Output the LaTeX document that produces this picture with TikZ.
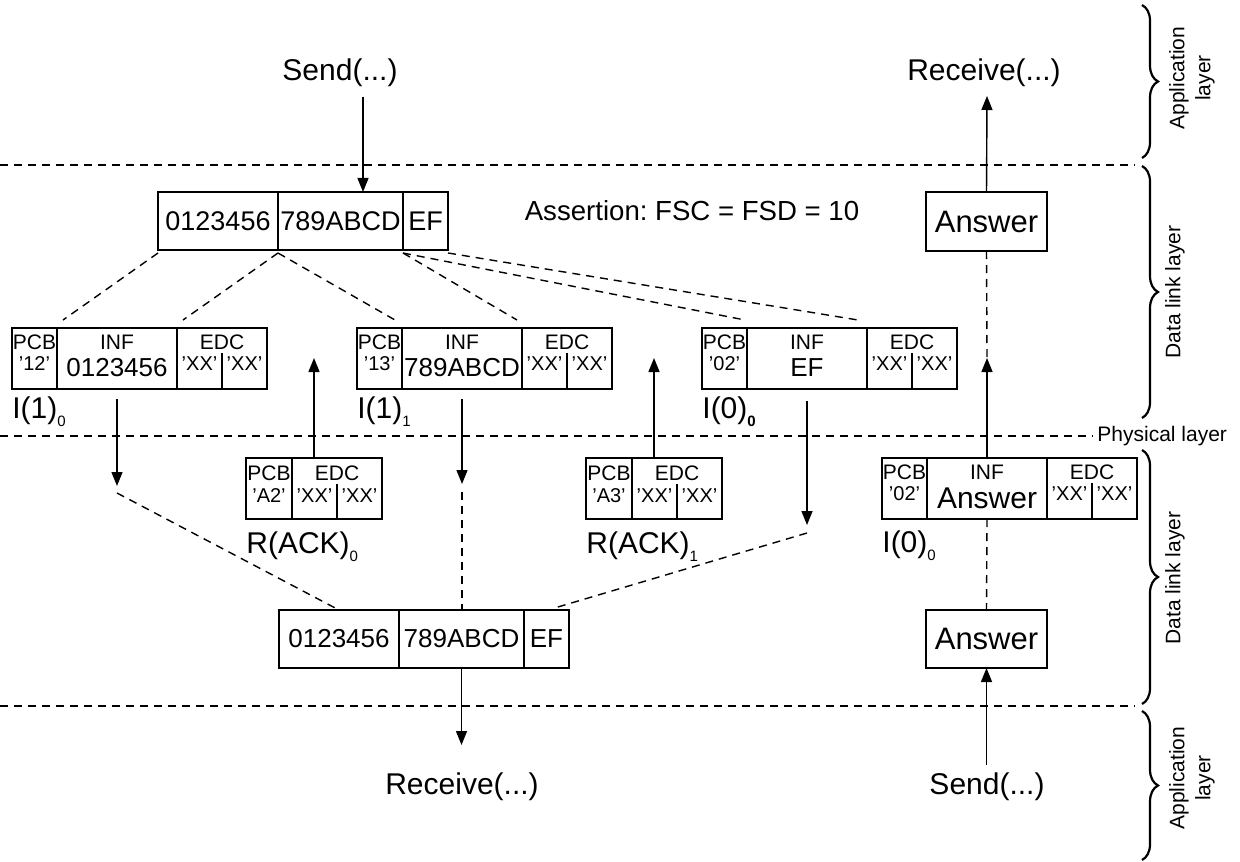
\documentclass[tikz,border=0pt]{standalone}
\usepackage{fontspec}
\setmainfont{Liberation Sans}
\usetikzlibrary{arrows.meta,decorations.pathreplacing,calc}
\newcommand{\fsz}[1]{\fontsize{#1}{#1}\selectfont}
\newcommand{\sbs}[1]{\raisebox{-0.28em}{\fontsize{7.5}{8}\selectfont #1}}
\tikzset{
  fld/.style={draw,line width=0.8pt,inner sep=0pt,outer sep=0pt,anchor=north west,minimum height=30.5pt},
  bx/.style={line width=0.8pt},
  lbl/.style={font=\fsz{10.5},inner sep=0pt},
  val/.style={font=\fsz{10},inner sep=0pt},
  big/.style={font=\fsz{15},inner sep=0pt},
  dsh/.style={dash pattern=on 4pt off 3pt,line width=0.7pt},
  arr/.style={line width=0.7pt,-{Triangle[length=7pt,width=5.5pt]}},
  brc/.style={decorate,decoration={brace,amplitude=8pt},line width=1.1pt},
  lay/.style={font=\fontsize{10.5}{13}\selectfont,inner sep=0pt,align=center,rotate=90}
}
\newcommand{\IFrame}[5]{%
  \node[fld,minimum width=22.5pt] (#1p) at (#2,#3) {};
  \node[fld,minimum width=60pt] (#1i) at (#1p.north east) {};
  \node[fld,minimum width=45pt] (#1e) at (#1i.north east) {};
  \draw[bx] ($(#1e.north)+(0,25)$) -- (#1e.south);
  \node[lbl] at ($(#1p.north)+(0,14)$) {PCB};
  \node[val] at ($(#1p.north)+(0,36)$) {#4};
  \node[lbl] at ($(#1i.north)+(0,14)$) {INF};
  \node[inner sep=0pt] at ($(#1i.north)+(0,40)$) {#5};
  \node[lbl] at ($(#1e.north)+(0,14)$) {EDC};
  \node[val] at ($(#1e.north)+(-22.5,36)$) {'XX'};
  \node[val] at ($(#1e.north)+(22.5,36)$) {'XX'};
}
\newcommand{\RFrame}[4]{%
  \node[fld,minimum width=23pt] (#1p) at (#2,#3) {};
  \node[fld,minimum width=45pt] (#1e) at (#1p.north east) {};
  \draw[bx] ($(#1e.north)+(0,26)$) -- (#1e.south);
  \node[lbl] at ($(#1p.north)+(0,15)$) {PCB};
  \node[val] at ($(#1p.north)+(0,38)$) {#4};
  \node[lbl] at ($(#1e.north)+(0,15)$) {EDC};
  \node[val] at ($(#1e.north)+(-22.5,38)$) {'XX'};
  \node[val] at ($(#1e.north)+(22.5,38)$) {'XX'};
}
\begin{document}
\begin{tikzpicture}[x=0.5pt,y=-0.5pt]
\useasboundingbox (0,0) rectangle (1240,861);

% layer separators
\coordinate (L1a) at (0,165); \coordinate (L1b) at (1135,165);
\coordinate (L2a) at (0,436);
\coordinate (L3a) at (0,706); \coordinate (L3b) at (1135,706);
\node[font=\fsz{10.5},inner sep=0pt,anchor=west] (phys) at (1097,436) {Physical layer};
\draw[dsh] (L1a) -- (L1b);
\draw[dsh] (L2a) -- ($(phys.west)+(-4,0)$);
\draw[dsh] (L3a) -- (L3b);

% braces
\coordinate (b1a) at (1142,5);   \coordinate (b1b) at (1142,158);
\coordinate (b2a) at (1142,166); \coordinate (b2b) at (1142,418);
\coordinate (b3a) at (1142,450); \coordinate (b3b) at (1142,704);
\coordinate (b4a) at (1142,711); \coordinate (b4b) at (1142,860);
\draw[brc] (b1a) -- (b1b);
\draw[brc] (b2a) -- (b2b);
\draw[brc] (b3a) -- (b3b);
\draw[brc] (b4a) -- (b4b);
\node[lay] (t1) at (1192,78) {Application\\layer};
\node[lay] (t2) at (1175,292) {Data link layer};
\node[lay] (t3) at (1175,578) {Data link layer};
\node[lay] (t4) at (1192,778) {Application\\layer};

% top
\node[big] (send1) at (340,73) {Send(...)};
\node[big] (recv1) at (984,73) {Receive(...)};
\node[fld,minimum width=60pt,minimum height=29pt,font=\fsz{13.5}] (tb1) at (158,192) {0123456};
\node[fld,minimum width=62.5pt,minimum height=29pt,font=\fsz{13.5}] (tb2) at (tb1.north east) {789ABCD};
\node[fld,minimum width=22.5pt,minimum height=29pt,font=\fsz{13.5}] (tb3) at (tb2.north east) {EF};
\node[font=\fsz{13.8},inner sep=0pt] (assert) at (692,211) {Assertion:\ FSC = FSD = 10};
\node[fld,minimum width=60.5pt,minimum height=29.5pt,font=\fsz{15.5}] (ans1) at (926,192) {Answer};

\coordinate (c1) at (363,97);
\draw[arr] (c1) -- (c1 |- tb2.north);
\coordinate (c2) at (987,96);
\draw[arr] (ans1.north) -- (c2);

% I frames
\IFrame{fa}{12}{328}{'12'}{\fsz{13}0123456}
\IFrame{fb}{357}{328}{'13'}{\fsz{13}789ABCD}
\IFrame{fc}{702}{328}{'02'}{\fsz{13}EF}
\node[big,anchor=base west] (la) at (12,418) {I(1)\sbs{0}};
\node[big,anchor=base west] (lb) at (357,418) {I(1)\sbs{1}};
\node[big,anchor=base west] (lc) at (702,418) {I(0)\sbs{\textbf{0}}};

% fan-out dashed lines
\draw[dsh] ($(tb1.south west)+(0,3)$) -- ($(fai.north west)+(6,-8)$);
\draw[dsh] ($(tb1.south east)+(0,3)$) -- ($(fai.north east)+(6,-8)$);
\draw[dsh] ($(tb2.south west)+(0,3)$) -- ($(fbi.north west)+(-7,-8)$);
\draw[dsh] ($(tb2.south east)+(0,3)$) -- ($(fbi.north east)+(-5,-8)$);
\draw[dsh] ($(tb3.south west)+(0,3)$) -- ($(fci.north west)+(-2,-8)$);
\draw[dsh] ($(tb3.south east)+(0,3)$) -- ($(fci.north east)+(-9,-8)$);

% R frames and lower I frame
\RFrame{ra}{246}{458}{'A2'}
\RFrame{rb}{586}{458}{'A3'}
\node[big,anchor=base west] (lra) at (246,553) {R(ACK)\sbs{0}};
\node[big,anchor=base west] (lrb) at (586,553) {R(ACK)\sbs{1}};
\IFrame{fd}{882}{458}{'02'}{\fsz{15}Answer}
\node[big,anchor=base west] (ld) at (882,552) {I(0)\sbs{0}};

% bottom boxes
\node[fld,minimum width=60pt,minimum height=29pt,font=\fsz{13}] (bb1) at (279,610) {0123456};
\node[fld,minimum width=62.5pt,minimum height=29pt,font=\fsz{13}] (bb2) at (bb1.north east) {789ABCD};
\node[fld,minimum width=22.5pt,minimum height=29pt,font=\fsz{13}] (bb3) at (bb2.north east) {EF};
\node[fld,minimum width=60.5pt,minimum height=29pt,font=\fsz{15.5}] (ans2) at (926,610) {Answer};
\node[big] (recv2) at (462,787) {Receive(...)};
\node[big] (send2) at (987,787) {Send(...)};

% down arrows from I frames
\coordinate (d1s) at ($(fai.south)+(0,10)$); \coordinate (d1e) at ($(fai.south)+(0,97)$); \coordinate (d1x) at ($(fai.south)+(0,104)$);
\coordinate (d2s) at ($(fbi.south)+(0,10)$); \coordinate (d2e) at ($(fbi.south)+(0,95)$); \coordinate (d2x) at ($(fbi.south)+(0,103)$);
\coordinate (d3s) at ($(fci.south)+(0,12)$); \coordinate (d3e) at ($(fci.south)+(0,136)$); \coordinate (d3x) at ($(fci.south)+(0,144)$);
\draw[arr] (d1s) -- (d1e);
\draw[arr] (d2s) -- (d2e);
\draw[arr] (d3s) -- (d3e);
\draw[dsh] (d1x) -- (bb1.north);
\draw[dsh] (d2x) -- (d2x |- bb2.north);
\draw[dsh] (d3x) -- ($(bb3.north)+(8,-2)$);

% up arrows from R frames
\coordinate (ua) at ($(rap.north west)!0.5!(rae.north east)$);
\coordinate (uat) at ($(ua)+(0,-100)$);
\draw[arr] (ua) -- (uat);
\coordinate (ub) at ($(rbp.north west)!0.5!(rbe.north east)$);
\coordinate (ubt) at ($(ub)+(0,-100)$);
\draw[arr] (ub) -- (ubt);

% right column
\coordinate (c3) at ($(fdi.north)+(0,-100)$);
\draw[dsh] (ans1.south) -- (c3);
\draw[arr] (fdi.north) -- (c3);
\draw[dsh] (fdi.south) -- (ans2.north);
\coordinate (c4) at ($(ans2.south)+(0,97)$);
\draw[arr] (c4) -- (ans2.south);
\coordinate (c5) at ($(bb2.south)+(0,77)$);
\draw[arr] (bb2.south) -- (c5);
\end{tikzpicture}
\end{document}
